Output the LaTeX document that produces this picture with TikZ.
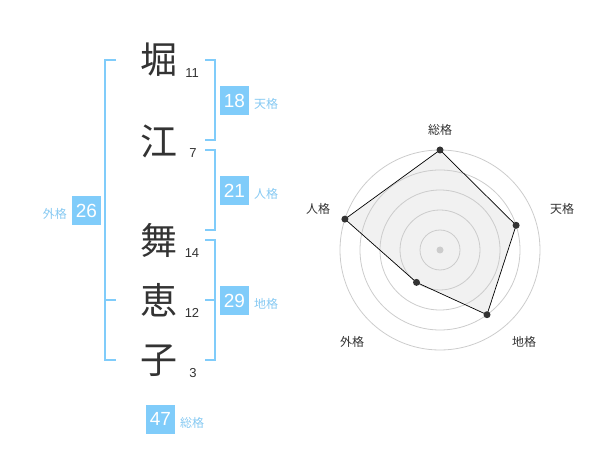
\documentclass[tikz,border=0pt]{standalone}
\usepackage{fontspec}
\setmainfont{Liberation Sans}
\newfontfamily\jp{Noto Sans CJK JP}
\definecolor{boxblue}{HTML}{80CCFA}
\definecolor{lblblue}{HTML}{86C9F2}
\definecolor{ink}{HTML}{333333}
\definecolor{ring}{HTML}{CCCCCC}
\definecolor{polyfill}{HTML}{F1F1F1}
\tikzset{
  kanji/.style={inner sep=0pt, text=ink, font=\jp\fontsize{37}{37}\selectfont},
  stroke/.style={inner sep=0pt, text=ink, font=\fontsize{13}{13}\selectfont},
  gbox/.style={fill=boxblue, text=white, minimum size=29pt, inner sep=0pt, font=\fontsize{19}{19}\selectfont},
  glabel/.style={inner sep=0pt, text=lblblue, font=\jp\fontsize{12}{12}\selectfont},
  bracket/.style={draw=boxblue, line width=1.6pt},
  rlabel/.style={inner sep=0pt, text=ink, font=\jp\fontsize{12}{12}\selectfont},
  rdot/.style={circle, fill=ink, inner sep=0pt, minimum size=7pt},
}
\begin{document}
\begin{tikzpicture}[x=1pt,y=-1pt]
\useasboundingbox (0,0) rectangle (600,470);
% name characters
\node[kanji] (c1) at (159,60) {堀};
\node[kanji] (c2) at (159,141) {江};
\node[kanji] (c3) at (159,240) {舞};
\node[kanji] (c4) at (159,300) {恵};
\node[kanji] (c5) at (159,361) {子};
\node[stroke] (n1) at (192,73) {11};
\node[stroke] (n2) at (193,153) {7};
\node[stroke] (n3) at (192,253) {14};
\node[stroke] (n4) at (192,313) {12};
\node[stroke] (n5) at (193,373) {3};
% brackets
\draw[bracket] (116,60) -- (105,60) -- (105,360) -- (116,360);
\draw[bracket] (105,300) -- (116,300);
\draw[bracket] (205,60) -- (215,60) -- (215,140) -- (205,140);
\draw[bracket] (205,150) -- (215,150) -- (215,230) -- (205,230);
\draw[bracket] (205,240) -- (215,240) -- (215,360) -- (205,360);
\draw[bracket] (205,300) -- (215,300);
% grade boxes
\node[gbox] (b26) at (86.5,210.5) {26};
\node[glabel, anchor=east] (l26) at (67,214) {外格};
\node[gbox] (b18) at (234.5,100.5) {18};
\node[glabel, anchor=west] (l18) at (254,104) {天格};
\node[gbox] (b21) at (234.5,190.5) {21};
\node[glabel, anchor=west] (l21) at (254,194) {人格};
\node[gbox] (b29) at (234.5,300.5) {29};
\node[glabel, anchor=west] (l29) at (254,304) {地格};
\node[gbox] (b47) at (160.5,419) {47};
\node[glabel, anchor=west] (l47) at (180,422.5) {総格};
% radar
\coordinate (ctr) at (440,250);
\coordinate (p1) at (440,150);
\coordinate (p2) at (516.1,225.3);
\coordinate (p3) at (487.0,314.7);
\coordinate (p4) at (416.5,282.4);
\coordinate (p5) at (344.9,219.1);
\fill[polyfill] (p1) -- (p2) -- (p3) -- (p4) -- (p5) -- cycle;
\foreach \r in {20,40,60,80,100} \draw[ring, line width=0.8pt] (ctr) circle[radius=\r];
\draw[black, line width=0.7pt] (p1) -- (p2) -- (p3) -- (p4) -- (p5) -- cycle;
\fill[ring] (ctr) circle[radius=3.5];
\foreach \p in {p1,p2,p3,p4,p5} \node[rdot] at (\p) {};
\node[rlabel] (r1) at (440,130) {総格};
\node[rlabel] (r2) at (562,209) {天格};
\node[rlabel] (r3) at (524,342) {地格};
\node[rlabel] (r4) at (352,342) {外格};
\node[rlabel] (r5) at (318,209) {人格};
\end{tikzpicture}
\end{document}
